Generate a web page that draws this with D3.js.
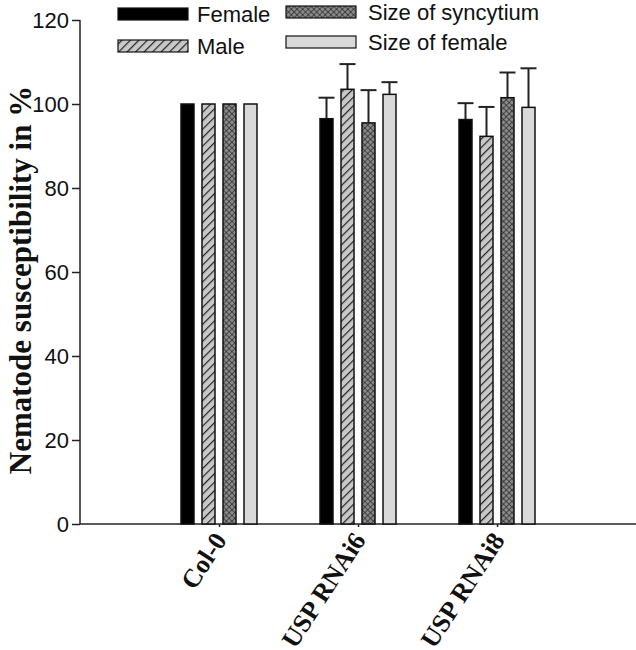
<!DOCTYPE html>
<html><head><meta charset="utf-8">
<script src="https://cdn.jsdelivr.net/npm/d3@7"></script>
<style>html,body{margin:0;padding:0;background:#fff;}</style>
</head><body>
<script>
const categories = ["Col-0", "USP RNAi6", "USP RNAi8"];
const seriesNames = ["Female", "Male", "Size of syncytium", "Size of female"];
const female    = [100, 96.5, 96.3];
const male      = [100, 103.5, 92.3];
const syncytium = [100, 95.5, 101.5];
const sizeFemale= [100, 102.3, 99.2];
const femaleErr    = [0, 5.0, 3.9];
const maleErr      = [0, 6.0, 7.0];
const syncytiumErr = [0, 7.8, 6.0];
const sizeFemaleErr= [0, 2.9, 9.3];
const yTicks = [0, 20, 40, 60, 80, 100, 120];

const values = [female, male, syncytium, sizeFemale];
const errs = [femaleErr, maleErr, syncytiumErr, sizeFemaleErr];

const W = 636, H = 650;
const svg = d3.select("body").append("svg").attr("width", W).attr("height", H);
const defs = svg.append("defs");

const p1 = defs.append("pattern").attr("id","hatch").attr("patternUnits","userSpaceOnUse")
  .attr("width",6).attr("height",6).attr("patternTransform","rotate(45)");
p1.append("rect").attr("width",6).attr("height",6).attr("fill","#c8c8c8");
p1.append("line").attr("x1",0).attr("y1",0).attr("x2",0).attr("y2",6).attr("stroke","#222").attr("stroke-width",2.4);
const p2 = defs.append("pattern").attr("id","cross").attr("patternUnits","userSpaceOnUse")
  .attr("width",4).attr("height",4).attr("patternTransform","rotate(45)");
p2.append("rect").attr("width",4).attr("height",4).attr("fill","#8a8a8a");
p2.append("line").attr("x1",0).attr("y1",0).attr("x2",0).attr("y2",4).attr("stroke","#222").attr("stroke-width",1.3);
p2.append("line").attr("x1",0).attr("y1",0).attr("x2",4).attr("y2",0).attr("stroke","#222").attr("stroke-width",1.3);

const fills = ["#000", "url(#hatch)", "url(#cross)", "#d9d9d9"];

const x = d3.scaleLinear().domain([0, 4]).range([80, 636]);
const y = d3.scaleLinear().domain([0, 120]).range([524, 20]);
const offsets = [-31.5, -10.5, 10.5, 31.5];
const bw = 13;

const yAxis = d3.axisLeft(y).tickValues(yTicks).tickSize(8).tickPadding(3);
const gy = svg.append("g").attr("transform","translate(80,0)").call(yAxis);
gy.select(".domain").attr("stroke","#222").attr("stroke-width",1.5).attr("d","M0,20V524");
gy.selectAll(".tick line").attr("stroke","#222").attr("stroke-width",1.5);
gy.selectAll(".tick text").attr("font-family","Liberation Sans, Arial, sans-serif").attr("font-size",22).attr("fill","#111");

const xAxis = d3.axisBottom(x).tickValues([1,2,3]).tickSize(3).tickFormat(d => categories[d-1]);
const gx = svg.append("g").attr("transform","translate(0,524)").call(xAxis);
gx.select(".domain").attr("stroke","#222").attr("stroke-width",1.5).attr("d","M80,0H636");
gx.selectAll(".tick line").attr("stroke","#222").attr("stroke-width",1.5);
gx.selectAll(".tick text")
  .attr("font-family","Liberation Serif, Times New Roman, serif").attr("font-weight","bold")
  .attr("font-size",26).attr("fill","#111")
  .attr("text-anchor","end").attr("dy",null).attr("y",0)
  .attr("transform","translate(8,16) rotate(-57)");

values.forEach((vals, si) => {
  const g = svg.append("g");
  vals.forEach((v, ci) => {
    const cx = x(ci+1) + offsets[si];
    const e = errs[si][ci];
    if (e > 0) {
      g.append("line").attr("x1",cx).attr("x2",cx).attr("y1",y(v)).attr("y2",y(v+e)).attr("stroke","#222").attr("stroke-width",2);
      g.append("line").attr("x1",cx-8).attr("x2",cx+8).attr("y1",y(v+e)).attr("y2",y(v+e)).attr("stroke","#222").attr("stroke-width",2);
    }
    g.append("rect").attr("x",cx-bw/2).attr("y",y(v)).attr("width",bw).attr("height",y(0)-y(v))
      .attr("fill",fills[si]).attr("stroke","#111").attr("stroke-width",1.5);
  });
});

const leg = [
  {i:0, x:118, y:8, tx:197},
  {i:1, x:118, y:40, tx:197},
  {i:2, x:286, y:6, tx:368},
  {i:3, x:286, y:36, tx:368}
];
leg.forEach(l => {
  svg.append("rect").attr("x",l.x).attr("y",l.y).attr("width",70).attr("height",12)
    .attr("fill",fills[l.i]).attr("stroke","#111").attr("stroke-width",1.2);
  svg.append("text").attr("x",l.tx).attr("y",l.y+14).text(seriesNames[l.i])
    .attr("font-family","Liberation Sans, Arial, sans-serif").attr("font-size",22).attr("fill","#111");
});

svg.append("text").attr("transform","translate(31,280) rotate(-90)").attr("text-anchor","middle")
  .attr("font-family","Liberation Serif, Times New Roman, serif").attr("font-weight","bold")
  .attr("font-size",31).attr("fill","#111").text("Nematode susceptibility in %");
</script>
</body></html>
